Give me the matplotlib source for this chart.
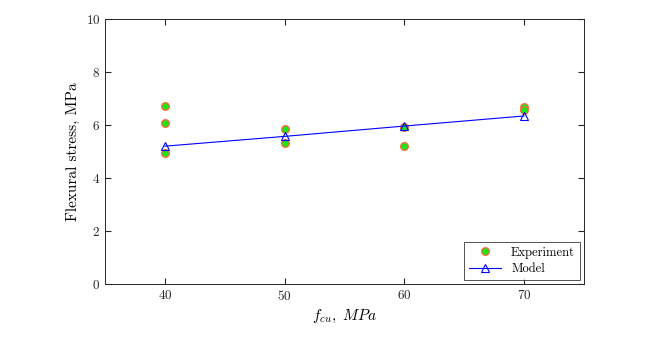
import matplotlib
matplotlib.use('Agg')
import matplotlib.pyplot as plt
import numpy as np

plt.rcParams['font.family'] = 'serif'
plt.rcParams['font.serif'] = ['cmr10']
plt.rcParams['mathtext.fontset'] = 'cm'
plt.rcParams['axes.formatter.use_mathtext'] = True

# experiment points
exp_fcu = [40, 40, 40, 50, 50, 60, 60, 70, 70]
exp_stress = [6.72, 6.08, 4.96, 5.85, 5.33, 5.92, 5.22, 6.68, 6.55]

# model
model_fcu = [40, 50, 60, 70]
model_stress = [5.2, 5.57, 5.96, 6.34]

fig = plt.figure(figsize=(6.65, 3.4), dpi=100)
ax = fig.add_axes([0.158, 0.165, 0.72, 0.779])

ax.plot(exp_fcu, exp_stress, 'o', ms=5.5, mfc=(0.1, 0.9, 0.1), mec=(1.0, 0.4, 0.2),
        mew=0.9, ls='none', label='Experiment')
ax.plot(model_fcu, model_stress, '-^', color='blue', lw=0.8, ms=6, mfc='none',
        mew=0.8, label='Model')

ax.set_xlim(35, 75)
ax.set_ylim(0, 10)
ax.set_xticks([40, 50, 60, 70])
ax.set_yticks([0, 2, 4, 6, 8, 10])
ax.tick_params(direction='in', top=True, right=True, labelsize=9.5, colors='0.15', length=4.5)
for s in ax.spines.values():
    s.set_color('0.15')
    s.set_linewidth(0.7)

ax.set_xlabel(r'$f_{cu},\ MPa$', fontsize=11)
ax.set_ylabel('Flexural stress, MPa', fontsize=11)

leg = ax.legend(loc='lower right', fontsize=9, fancybox=False, edgecolor='0.15',
                borderpad=0.4, handlelength=2.6, labelspacing=0.35,
                borderaxespad=0.3)
leg.get_frame().set_linewidth(0.7)

fig.savefig('out.png', dpi=100)
